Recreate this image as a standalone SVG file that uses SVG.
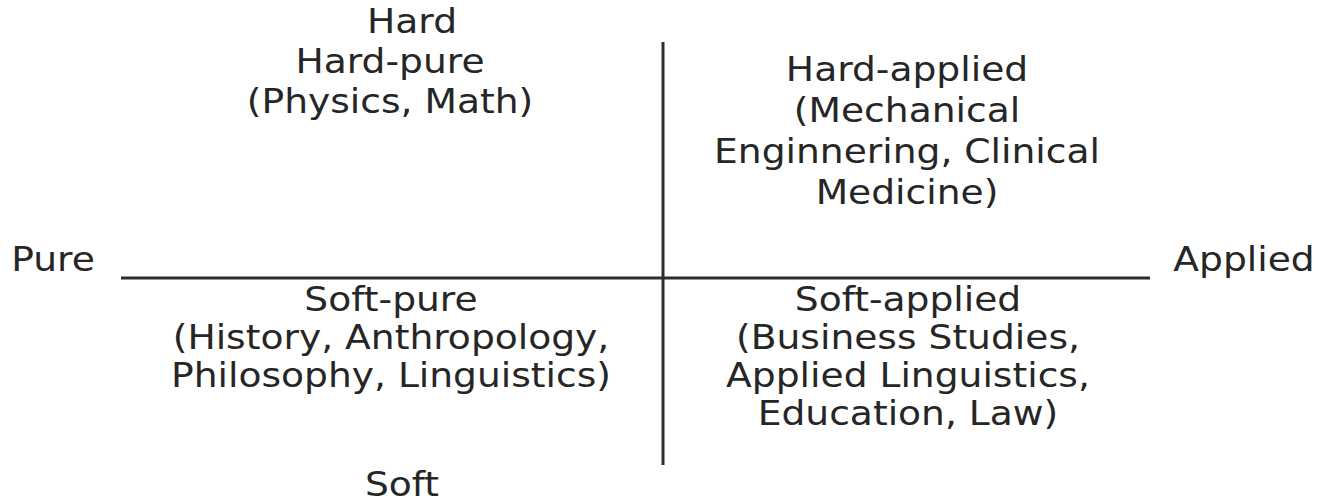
<svg xmlns="http://www.w3.org/2000/svg" width="1318" height="504" viewBox="0 0 1318 504">
<style>
text{font-family:"DejaVu Sans","Verdana",sans-serif;font-size:33px;fill:#262626;text-anchor:middle}
.ax{stroke:#2e2e2e;stroke-width:3;fill:none}
</style>
<rect width="1318" height="504" fill="#fff"/>
<g id="connectors">
<line class="ax" x1="121" y1="278" x2="1150" y2="278"/>
<line class="ax" x1="663" y1="42" x2="663" y2="465"/>
</g>
<g id="hard"><text transform="translate(412,33) scale(1.14,1)">Hard</text></g>
<g id="soft"><text transform="translate(402,496) scale(1.14,1)">Soft</text></g>
<g id="pure"><text transform="translate(53,271) scale(1.14,1)">Pure</text></g>
<g id="applied"><text transform="translate(1244,271) scale(1.14,1)">Applied</text></g>
<g id="hard-pure">
<text transform="translate(390,73) scale(1.14,1)">Hard-pure</text>
<text transform="translate(390,113) scale(1.14,1)">(Physics, Math)</text>
</g>
<g id="hard-applied">
<text transform="translate(907,81) scale(1.14,1)">Hard-applied</text>
<text transform="translate(907,122) scale(1.14,1)">(Mechanical</text>
<text transform="translate(907,163) scale(1.14,1)">Enginnering, Clinical</text>
<text transform="translate(907,204) scale(1.14,1)">Medicine)</text>
</g>
<g id="soft-pure">
<text transform="translate(391,311) scale(1.14,1)">Soft-pure</text>
<text transform="translate(391,349) scale(1.14,1)">(History, Anthropology,</text>
<text transform="translate(391,387) scale(1.14,1)">Philosophy, Linguistics)</text>
</g>
<g id="soft-applied">
<text transform="translate(908,311) scale(1.14,1)">Soft-applied</text>
<text transform="translate(908,349) scale(1.14,1)">(Business Studies,</text>
<text transform="translate(908,387) scale(1.14,1)">Applied Linguistics,</text>
<text transform="translate(908,425) scale(1.14,1)">Education, Law)</text>
</g>
</svg>
